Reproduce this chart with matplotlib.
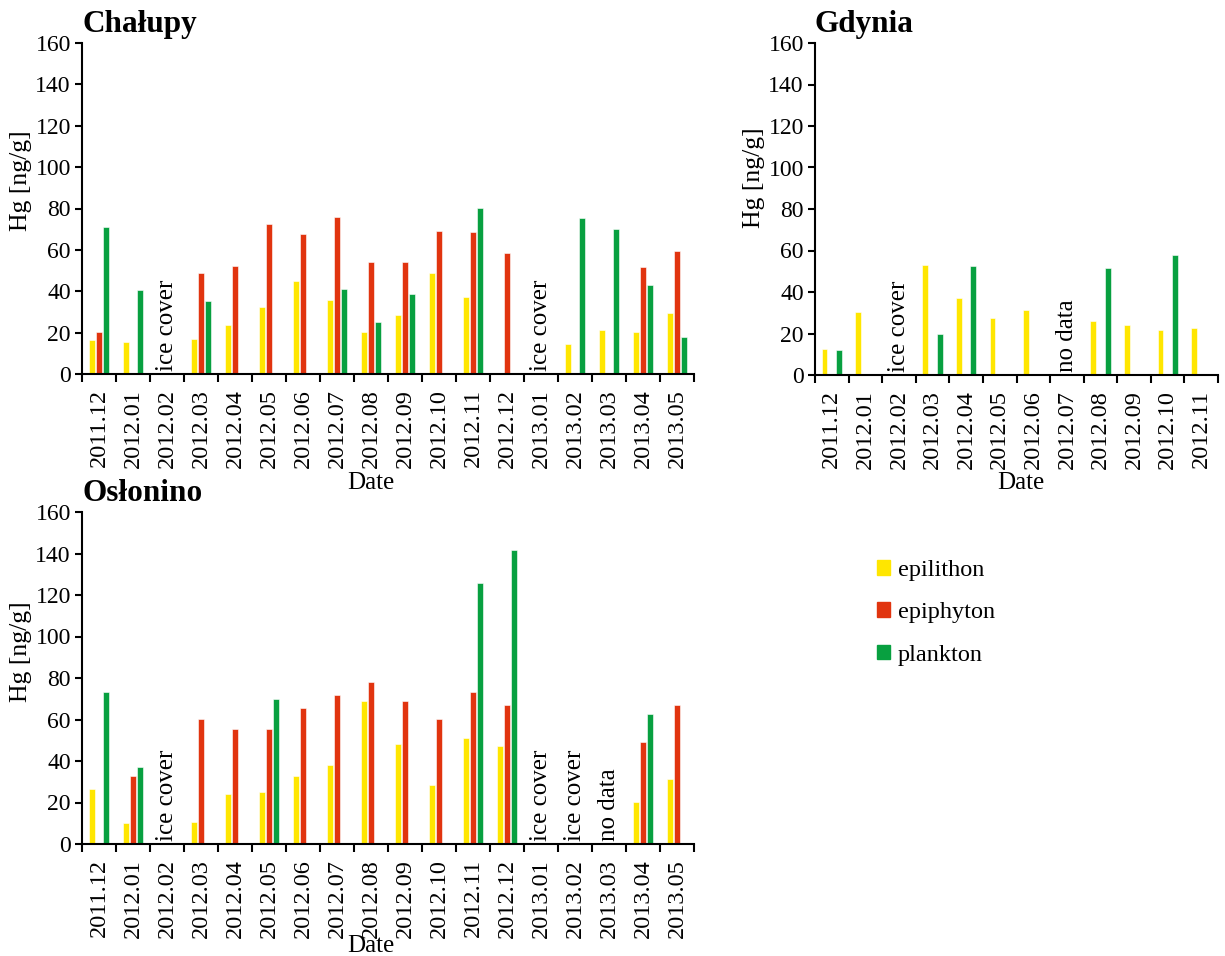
import numpy as np
import matplotlib
matplotlib.use("Agg")
import matplotlib.pyplot as plt
import matplotlib.patches as mpatches

plt.rcParams['font.family'] = ['Liberation Serif', 'DejaVu Serif']

nan = np.nan

# Chałupy
chal_dates = ["2011.12", "2012.01", "2012.02", "2012.03", "2012.04", "2012.05",
              "2012.06", "2012.07", "2012.08", "2012.09", "2012.10", "2012.11",
              "2012.12", "2013.01", "2013.02", "2013.03", "2013.04", "2013.05"]
chal_epilithon = [16.5, 15.4, nan, 16.8, 23.9, 32.3, 44.8, 35.9, 20.2, 28.4, 48.6, 37.2,
                  nan, nan, 14.4, 21.5, 20.2, 29.4]
chal_epiphyton = [20.2, nan, nan, 48.8, 52.2, 72.7, 67.7, 75.8, 54.3, 54.0, 69.0, 68.7,
                  58.5, nan, nan, nan, 51.5, 59.5]
chal_plankton = [71.1, 40.7, nan, 35.1, nan, nan, nan, 41.1, 25.2, 38.9, nan, 80.1,
                 nan, nan, 75.3, 70.3, 42.8, 17.9]
chal_notes = {"2012.02": "ice cover", "2013.01": "ice cover"}

# Gdynia
gdy_dates = ["2011.12", "2012.01", "2012.02", "2012.03", "2012.04", "2012.05",
             "2012.06", "2012.07", "2012.08", "2012.09", "2012.10", "2012.11"]
gdy_epilithon = [12.7, 30.3, nan, 53.0, 37.2, 27.4, 31.1, nan, 25.8, 23.9, 21.7, 22.6]
gdy_epiphyton = [nan] * 12
gdy_plankton = [12.0, nan, nan, 19.9, 52.5, nan, nan, nan, 51.7, nan, 57.6, nan]
gdy_notes = {"2012.02": "ice cover", "2012.07": "no data"}

# Osłonino
osl_dates = chal_dates
osl_epilithon = [26.7, 10.3, nan, 10.4, 24.1, 25.1, 32.8, 38.1, 68.8, 48.2, 28.6, 51.2,
                 47.2, nan, nan, nan, 20.2, 31.3]
osl_epiphyton = [nan, 32.8, nan, 60.2, 55.3, 55.4, 65.7, 71.6, 78.1, 69.1, 60.1, 73.3,
                 66.8, nan, nan, nan, 49.0, 67.1]
osl_plankton = [73.3, 36.9, nan, nan, nan, 69.7, nan, nan, nan, nan, nan, 126.0,
                141.5, nan, nan, nan, 62.7, nan]
osl_notes = {"2012.02": "ice cover", "2013.01": "ice cover", "2013.02": "ice cover",
             "2013.03": "no data"}

series = ["epilithon", "epiphyton", "plankton"]
colors = ["#FFE600", "#E1340F", "#08A040"]

W, H = 1225, 956
fig = plt.figure(figsize=(W / 100, H / 100), dpi=100)


def px_axes(l, t, r, b):
    return fig.add_axes([l / W, 1 - b / H, (r - l) / W, (b - t) / H])


def panel(ax, title, dates, vals, notes, width_px, date_x, date_y, ylab_y):
    n = len(dates)
    x = np.arange(n) + 0.5
    for k, (v, c) in enumerate(zip(vals, colors)):
        ax.bar(x + (k - 1) * 0.215, v, width=0.17, color=c,
               edgecolor="white", linewidth=0.4)
    for d, txt in notes.items():
        i = dates.index(d)
        ax.text(i + 0.5, 1.5, txt, rotation=90, ha="center", va="bottom",
                fontsize=18)
    ax.set_xlim(0, n)
    ax.set_ylim(0, 160)
    ax.set_yticks(np.arange(0, 161, 20))
    ax.set_xticks(np.arange(n + 1))
    ax.set_xticklabels([])
    ax.set_xticks(x, minor=True)
    ax.set_xticklabels(dates, minor=True, rotation=90, fontsize=17.5)
    ax.tick_params(axis="x", which="major", direction="out", length=6, width=1.5)
    ax.tick_params(axis="x", which="minor", length=0, pad=11)
    ax.tick_params(axis="y", direction="out", length=5, width=1.5, labelsize=17, pad=3)
    for s in ["top", "right"]:
        ax.spines[s].set_visible(False)
    for s in ["left", "bottom"]:
        ax.spines[s].set_linewidth(1.5)
    ax.set_ylabel("Hg [ng/g]", fontsize=18.5)
    ax.yaxis.set_label_coords(-50 / width_px, ylab_y)
    ax.set_xlabel("Date", fontsize=18)
    ax.xaxis.set_label_coords(date_x, date_y)
    ax.text(0.0, 1.033, title, transform=ax.transAxes, fontsize=22.5,
            fontweight="bold", ha="left", va="baseline")


ax1 = px_axes(82, 43, 694, 374)
panel(ax1, "Chałupy", chal_dates, [chal_epilithon, chal_epiphyton, chal_plankton],
      chal_notes, 612, 0.472, -0.295, 0.583)

ax2 = px_axes(815, 43, 1218, 375)
panel(ax2, "Gdynia", gdy_dates, [gdy_epilithon, gdy_epiphyton, gdy_plankton],
      gdy_notes, 403, 0.51, -0.293, 0.593)

ax3 = px_axes(82, 512, 694, 844)
panel(ax3, "Osłonino", osl_dates, [osl_epilithon, osl_epiphyton, osl_plankton],
      osl_notes, 612, 0.472, -0.275, 0.578)

handles = [mpatches.Patch(color=c, label=s) for s, c in zip(series, colors)]
fig.legend(handles=handles, loc="upper left", bbox_to_anchor=(855 / W, 1 - 538 / H),
           frameon=False, fontsize=17.5, handlelength=0.55, handleheight=0.55,
           handletextpad=0.3, labelspacing=0.88)

fig.savefig("out.png", dpi=100)
